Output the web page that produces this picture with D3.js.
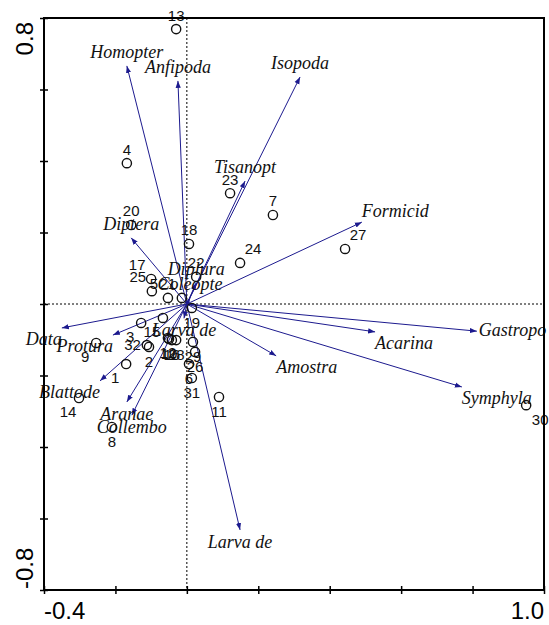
<!DOCTYPE html>
<html>
<head>
<meta charset="utf-8">
<script src="https://cdn.jsdelivr.net/npm/d3@7/dist/d3.min.js"></script>
<style>
  html, body { margin: 0; padding: 0; background: #fff; }
  svg { display: block; }
</style>
</head>
<body>
<div id="chart"></div>
<script>
// ---------- data ----------
const xTicks = [-0.4, -0.2, 0.0, 0.2, 0.4, 0.6, 0.8, 1.0];
const yTicks = [-0.8, -0.6, -0.4, -0.2, 0.0, 0.2, 0.4, 0.6, 0.8];
const xTickLabels = ["-0.4", "1.0"];
const yTickLabels = ["-0.8", "0.8"];

// species (arrows)
const speciesNames = ["Homopter", "Anfipoda", "Isopoda", "Tisanopt", "Formicid", "Gastropo",
  "Acarina", "Amostra", "Symphyla", "Larva de", "Data", "Protura", "Blattode", "Aranae",
  "Collembo", "Diptera", "Diplura", "Coleopte", "Larva de"];
const speciesX = [-0.168, -0.025, 0.317, 0.163, 0.490, 0.812, 0.527, 0.250, 0.770, 0.149,
  -0.350, -0.207, -0.243, -0.168, -0.154, -0.156, 0.026, 0.009, -0.008];
const speciesY = [0.666, 0.624, 0.635, 0.344, 0.229, -0.076, -0.078, -0.145, -0.232, -0.632,
  -0.067, -0.087, -0.215, -0.274, -0.311, 0.185, 0.059, 0.017, -0.040];
const speciesLabelPos = ["t", "t", "t", "t", "tr", "r", "br", "br", "br", "b",
  "bl", "bl", "bl", "b", "b", "t", "t", "t", "b"];

// samples (points)
const sampleIds = [1, 2, 3, 4, 5, 6, 7, 8, 9, 10, 11, 12, 13, 14, 15, 16,
  17, 18, 19, 20, 21, 22, 23, 24, 25, 26, 27, 28, 29, 30, 31, 32];
const sampleX = [-0.170, -0.106, -0.128, -0.168, -0.053, 0.006, 0.241, -0.210, -0.254, -0.050,
  0.090, -0.053, -0.030, -0.302, -0.067, -0.042, -0.100, 0.006, 0.014, -0.156,
  -0.014, 0.026, 0.121, 0.149, -0.098, 0.023, 0.443, -0.030, 0.017, 0.950, 0.014, -0.112];
const sampleY = [-0.168, -0.120, -0.053, 0.394, 0.017, -0.168, 0.249, -0.344, -0.109, -0.098,
  -0.260, -0.095, 0.769, -0.263, -0.039, -0.101, 0.070, 0.168, -0.011, 0.221,
  0.017, 0.076, 0.310, 0.115, 0.036, -0.134, 0.154, -0.101, -0.106, -0.283, -0.207, -0.115];
const sampleLabelPos = ["bl", "b", "bl", "t", "tl", "b", "t", "b", "bl", "b",
  "b", "b", "t", "bl", "bl", "b", "tl", "t", "b", "t",
  "tl", "t", "t", "tr", "tl", "b", "tr", "b", "b", "br", "b", "l"];

// ---------- layout ----------
const W = 549, H = 625;
const L = 44, R = 544, T = 18, B = 590;

const svg = d3.select("#chart").append("svg")
  .attr("width", W).attr("height", H)
  .attr("viewBox", `0 0 ${W} ${H}`);

const x = d3.scaleLinear().domain([-0.4, 1.0]).range([L, R]);
const y = d3.scaleLinear().domain([-0.8, 0.8]).range([B, T]);

const navy = "#1c1a8e";

svg.append("defs").append("marker")
  .attr("id", "ah")
  .attr("viewBox", "0 -3 7 6")
  .attr("refX", 7).attr("refY", 0)
  .attr("markerWidth", 7).attr("markerHeight", 6)
  .attr("markerUnits", "userSpaceOnUse")
  .attr("orient", "auto")
  .append("path").attr("d", "M0,-2.6L7,0L0,2.6Z").attr("fill", navy);

// dashed zero lines
svg.append("line")
  .attr("x1", x(0)).attr("x2", x(0)).attr("y1", T).attr("y2", B)
  .attr("stroke", "#000").attr("stroke-width", 1).attr("stroke-dasharray", "2,2");
svg.append("line")
  .attr("x1", L).attr("x2", R).attr("y1", y(0)).attr("y2", y(0))
  .attr("stroke", "#000").attr("stroke-width", 1).attr("stroke-dasharray", "2,2");

// arrows
const species = speciesNames.map((n, i) => ({ name: n, x: speciesX[i], y: speciesY[i], pos: speciesLabelPos[i] }));
svg.append("g").selectAll("line").data(species).join("line")
  .attr("x1", x(0)).attr("y1", y(0))
  .attr("x2", d => x(d.x)).attr("y2", d => y(d.y))
  .attr("stroke", navy).attr("stroke-width", 1)
  .attr("marker-end", "url(#ah)");

const spOff = {
  t:  { a: "middle", dx: 0, dy: -8 },
  b:  { a: "middle", dx: 0, dy: 18 },
  tr: { a: "start",  dx: 0, dy: -5 },
  r:  { a: "start",  dx: 2, dy: 5 },
  br: { a: "start",  dx: 0, dy: 17 },
  bl: { a: "end",    dx: 0, dy: 17 }
};
svg.append("g").selectAll("text").data(species).join("text")
  .attr("x", d => x(d.x) + spOff[d.pos].dx)
  .attr("y", d => y(d.y) + spOff[d.pos].dy)
  .attr("text-anchor", d => spOff[d.pos].a)
  .attr("font-family", "'Liberation Serif', 'Times New Roman', serif")
  .attr("font-style", "italic")
  .attr("font-size", 18)
  .attr("fill", "#111")
  .text(d => d.name);

// samples
const samples = sampleIds.map((id, i) => ({ id, x: sampleX[i], y: sampleY[i], pos: sampleLabelPos[i] }));
svg.append("g").selectAll("circle").data(samples).join("circle")
  .attr("cx", d => x(d.x)).attr("cy", d => y(d.y)).attr("r", 4.6)
  .attr("fill", "none").attr("stroke", "#111").attr("stroke-width", 1.4);

const smOff = {
  t:  { a: "middle", dx: 0,   dy: -8.5 },
  b:  { a: "middle", dx: 0,   dy: 20 },
  bl: { a: "middle", dx: -11, dy: 19 },
  br: { a: "middle", dx: 14,  dy: 20 },
  tr: { a: "middle", dx: 13,  dy: -9 },
  tl: { a: "middle", dx: -14, dy: -9 },
  l:  { a: "end",    dx: -6,  dy: 5 }
};
svg.append("g").selectAll("text").data(samples).join("text")
  .attr("x", d => x(d.x) + smOff[d.pos].dx)
  .attr("y", d => y(d.y) + smOff[d.pos].dy)
  .attr("text-anchor", d => smOff[d.pos].a)
  .attr("font-family", "'Liberation Sans', Arial, sans-serif")
  .attr("font-size", 15)
  .attr("fill", "#111")
  .text(d => d.id);

// axes (ticks only, crossing the frame)
const gx = svg.append("g").attr("transform", `translate(0,${B})`)
  .call(d3.axisBottom(x).tickValues(xTicks).tickSize(4).tickFormat(""));
gx.select(".domain").remove();
gx.selectAll(".tick line").attr("y1", -4).attr("y2", 4).attr("stroke", "#000").attr("stroke-width", 1.5);

const gy = svg.append("g").attr("transform", `translate(${L},0)`)
  .call(d3.axisLeft(y).tickValues(yTicks).tickSize(4).tickFormat(""));
gy.select(".domain").remove();
gy.selectAll(".tick line").attr("x1", -4).attr("x2", 4).attr("stroke", "#000").attr("stroke-width", 1.5);

// frame
svg.append("rect")
  .attr("x", L).attr("y", T).attr("width", R - L).attr("height", B - T)
  .attr("fill", "none").attr("stroke", "#000").attr("stroke-width", 2);

// tick labels
const tf = "'Liberation Sans', Arial, sans-serif";
svg.append("text").attr("x", x(-0.4)).attr("y", 619).attr("text-anchor", "start")
  .attr("font-family", tf).attr("font-size", 24).attr("fill", "#000").text(xTickLabels[0]);
svg.append("text").attr("x", x(1.0)).attr("y", 619).attr("text-anchor", "end")
  .attr("font-family", tf).attr("font-size", 24).attr("fill", "#000").text(xTickLabels[1]);
svg.append("text").attr("transform", `translate(33,${y(0.8) + 4}) rotate(-90)`)
  .attr("text-anchor", "end")
  .attr("font-family", tf).attr("font-size", 24).attr("fill", "#000").text(yTickLabels[1]);
svg.append("text").attr("transform", `translate(33,${y(-0.8) - 1}) rotate(-90)`)
  .attr("text-anchor", "start")
  .attr("font-family", tf).attr("font-size", 24).attr("fill", "#000").text(yTickLabels[0]);
</script>
</body>
</html>
